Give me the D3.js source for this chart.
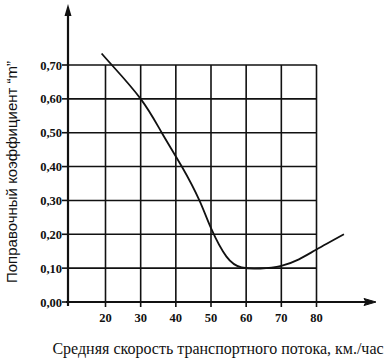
<!DOCTYPE html>
<html><head><meta charset="utf-8">
<script src="https://cdn.jsdelivr.net/npm/d3@7"></script>
<style>body{margin:0;background:#fff}svg{display:block}</style>
</head><body>
<script>
const speeds = [18.9, 21.8, 30, 36, 41.7, 46.7, 50, 54.4, 58.7, 64, 70, 75, 80, 87.8];
const coefs  = [0.734, 0.70, 0.60, 0.50, 0.40, 0.30, 0.218, 0.134, 0.102, 0.099, 0.107, 0.126, 0.155, 0.20];
const xTicks = [20, 30, 40, 50, 60, 70, 80];
const yTicks = [0, 0.1, 0.2, 0.3, 0.4, 0.5, 0.6, 0.7];
const xTitle = "Средняя скорость транспортного потока, км./час";
const yTitle = "Поправочный коэффициент “m”";

const W = 391, H = 361;
const svg = d3.select("body").append("svg").attr("width", W).attr("height", H);
const x = d3.scaleLinear().domain([20, 80]).range([105.5, 316.5]);
const y = d3.scaleLinear().domain([0, 0.7]).range([302, 65]);
const axisX = 68;
const ink = "#111";
const fmt = d => d3.format(".2f")(d).replace(".", ",");

// grid
const g = svg.append("g").attr("stroke", ink).attr("stroke-width", 1.6).attr("fill", "none");
g.selectAll("line.h").data(yTicks.filter(d => d > 0)).join("line")
  .attr("x1", axisX).attr("x2", x(80)).attr("y1", d => y(d)).attr("y2", d => y(d));
g.selectAll("line.v").data(xTicks).join("line")
  .attr("x1", d => x(d)).attr("x2", d => x(d)).attr("y1", y(0.7)).attr("y2", y(0) + 5);

// axes
svg.append("line").attr("x1", axisX).attr("x2", axisX).attr("y1", 12).attr("y2", y(0) + 4)
  .attr("stroke", ink).attr("stroke-width", 2.2);
svg.append("line").attr("x1", axisX - 2).attr("x2", 368).attr("y1", y(0)).attr("y2", y(0))
  .attr("stroke", ink).attr("stroke-width", 2.2);
svg.append("path").attr("d", `M${axisX},4 L${axisX-3.5},16 L${axisX+3.5},16 Z`).attr("fill", ink);
svg.append("path").attr("d", `M376,${y(0)} L364,${y(0)-3.5} L366,${y(0)} L364,${y(0)+3.5} Z`).attr("fill", ink).attr("stroke", ink).attr("stroke-width", 1);

// y ticks
svg.selectAll("line.yt").data(yTicks).join("line")
  .attr("x1", axisX - 6).attr("x2", axisX).attr("y1", d => y(d)).attr("y2", d => y(d))
  .attr("stroke", ink).attr("stroke-width", 1.6);
svg.selectAll("text.yl").data(yTicks).join("text")
  .attr("x", 62).attr("y", d => y(d) + 4.5).attr("text-anchor", "end")
  .attr("font-family", "Liberation Serif").attr("font-weight", "bold").attr("font-size", 12.5)
  .attr("fill", ink).text(fmt);
svg.selectAll("text.xl").data(xTicks).join("text")
  .attr("x", d => x(d)).attr("y", 322).attr("text-anchor", "middle")
  .attr("font-family", "Liberation Serif").attr("font-weight", "bold").attr("font-size", 12.5)
  .attr("fill", ink).text(d => d);

// curve
const pts = speeds.map((s, i) => [s, coefs[i]]);
svg.append("path").datum(pts)
  .attr("d", d3.line().x(d => x(d[0])).y(d => y(d[1])).curve(d3.curveNatural))
  .attr("fill", "none").attr("stroke", ink).attr("stroke-width", 1.8);

// titles
svg.append("text").attr("transform", "translate(17,172) rotate(-90)")
  .attr("text-anchor", "middle").attr("font-family", "Liberation Sans").attr("font-size", 15)
  .attr("fill", ink).text(yTitle);
svg.append("text").attr("x", 218).attr("y", 354).attr("text-anchor", "middle")
  .attr("font-family", "Liberation Serif").attr("font-size", 16)
  .attr("fill", ink).text(xTitle);
</script>
</body></html>
